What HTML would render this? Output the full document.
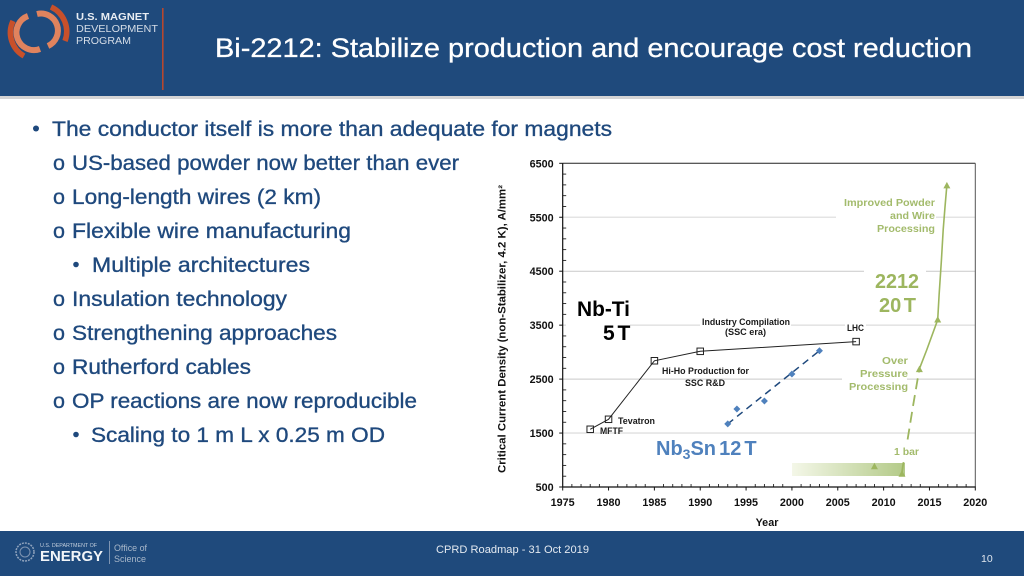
<!DOCTYPE html>
<html lang="en">
<head>
<meta charset="utf-8">
<title>Bi-2212: Stabilize production and encourage cost reduction</title>
<style>
html,body{margin:0;padding:0;background:#fff;width:1024px;height:576px;overflow:hidden}
svg{display:block;font-family:"Liberation Sans",sans-serif}
.body-text{font-size:21.5px;fill:#1f497d;stroke:#1f497d;stroke-width:.35px}
.lab{font-size:9px;font-weight:bold;fill:#1a1a1a}
.grn{font-size:10.5px;font-weight:bold;fill:#a3bb6c}
.grn-big{font-size:20px;font-weight:bold;fill:#9db65f}
.tick{font-size:10.8px;font-weight:bold;fill:#111}
</style>
</head>
<body>
<svg id="slide" xmlns="http://www.w3.org/2000/svg" width="1024" height="576" viewBox="0 0 1024 576">
  <defs>
    <linearGradient id="barGrad" x1="0" x2="1" y1="0" y2="0">
      <stop offset="0" stop-color="#f4f7e8"/>
      <stop offset="1" stop-color="#b3ca88"/>
    </linearGradient>
  </defs>

  <g>
    <rect x="0" y="96" width="1024" height="3" fill="#d4d4d4"/>
    <rect x="0" y="0" width="1024" height="96" fill="#1f4a7c"/>
    <g fill="none">
      <path d="M37 14 A17 17 0 0 1 48 46" stroke="#e0835e" stroke-width="6"/>
      <path d="M28 16 A17 17 0 0 0 40 49" stroke="#e0835e" stroke-width="6"/>
      <path d="M51 7 A27 27 0 0 1 65 41" stroke="#c8502a" stroke-width="5.5"/>
      <path d="M13 21 A27 27 0 0 0 24 56" stroke="#c8502a" stroke-width="5.5"/>
      <text x="76" y="20" font-size="10.5" font-weight="bold" fill="#e8edf3" textLength="73" lengthAdjust="spacingAndGlyphs">U.S. MAGNET</text>
      <text x="76" y="32" font-size="10.5" fill="#d5dde7" textLength="82" lengthAdjust="spacingAndGlyphs">DEVELOPMENT</text>
      <text x="76" y="44" font-size="10.5" fill="#d5dde7" textLength="55" lengthAdjust="spacingAndGlyphs">PROGRAM</text>
    </g>
    <rect x="162" y="8" width="1.6" height="82" fill="#b5482f"/>
    <text x="215" y="57" font-size="26.5" fill="#fff" stroke="#fff" stroke-width=".3" textLength="757" lengthAdjust="spacingAndGlyphs">Bi-2212: Stabilize production and encourage cost reduction</text>
  </g>

  <g>
    <circle cx="36" cy="128.500" r="3" fill="#1f497d"/>
    <text class="body-text" x="52" y="136" textLength="560" lengthAdjust="spacingAndGlyphs">The conductor itself is more than adequate for magnets</text>
    <text class="body-text" x="53" y="170">o</text>
    <text class="body-text" x="72" y="170" textLength="387" lengthAdjust="spacingAndGlyphs">US-based powder now better than ever</text>
    <text class="body-text" x="53" y="204">o</text>
    <text class="body-text" x="72" y="204" textLength="249" lengthAdjust="spacingAndGlyphs">Long-length wires (2 km)</text>
    <text class="body-text" x="53" y="238">o</text>
    <text class="body-text" x="72" y="238" textLength="279" lengthAdjust="spacingAndGlyphs">Flexible wire manufacturing</text>
    <circle cx="76" cy="264.500" r="2.800" fill="#1f497d"/>
    <text class="body-text" x="92" y="272" textLength="218" lengthAdjust="spacingAndGlyphs">Multiple architectures</text>
    <text class="body-text" x="53" y="306">o</text>
    <text class="body-text" x="72" y="306" textLength="215" lengthAdjust="spacingAndGlyphs">Insulation technology</text>
    <text class="body-text" x="53" y="340">o</text>
    <text class="body-text" x="72" y="340" textLength="265" lengthAdjust="spacingAndGlyphs">Strengthening approaches</text>
    <text class="body-text" x="53" y="374">o</text>
    <text class="body-text" x="72" y="374" textLength="179" lengthAdjust="spacingAndGlyphs">Rutherford cables</text>
    <text class="body-text" x="53" y="408">o</text>
    <text class="body-text" x="72" y="408" textLength="345" lengthAdjust="spacingAndGlyphs">OP reactions are now reproducible</text>
    <circle cx="76" cy="434.500" r="2.800" fill="#1f497d"/>
    <text class="body-text" x="91" y="442" textLength="294" lengthAdjust="spacingAndGlyphs">Scaling to 1 m L x 0.25 m OD</text>
  </g>

  <g id="chart">
    <g id="grid"></g>
    <g fill="#fff">
      <rect x="836" y="195" width="100" height="40"/>
      <rect x="864" y="266" width="62" height="52"/>
      <rect x="566" y="296" width="64" height="46"/>
      <rect x="700" y="316" width="91" height="21"/>
      <rect x="845" y="322" width="21" height="12"/>
      <rect x="842" y="354" width="65" height="38"/>
      <rect x="638" y="436" width="135" height="26"/>
    </g>
    <rect id="pressureBar" x="792" y="463" width="113" height="13" fill="url(#barGrad)"/>
    <g id="axes"></g>
    <g id="marks"></g>
    <rect x="892" y="443" width="29" height="17" fill="#fff"/>
    <g id="ticks"></g>

    <text transform="translate(505.500 473) rotate(-90)" font-size="10.800" font-weight="bold" fill="#111" textLength="288" lengthAdjust="spacingAndGlyphs">Critical Current Density (non-Stabilizer, 4.2 K), A/mm²</text>
    <text x="767" y="526" font-size="10.800" font-weight="bold" fill="#111" text-anchor="middle">Year</text>

    <text x="577" y="316" font-size="21" font-weight="bold" fill="#000" textLength="53" lengthAdjust="spacingAndGlyphs">Nb-Ti</text>
    <text x="603" y="340" font-size="21" font-weight="bold" fill="#000" word-spacing="-3">5 T</text>
    <text class="lab" x="702" y="325" textLength="88" lengthAdjust="spacingAndGlyphs">Industry Compilation</text>
    <text class="lab" x="725" y="335" textLength="41" lengthAdjust="spacingAndGlyphs">(SSC era)</text>
    <text class="lab" x="847" y="331" textLength="17" lengthAdjust="spacingAndGlyphs">LHC</text>
    <text class="lab" x="662" y="374" textLength="87" lengthAdjust="spacingAndGlyphs">Hi-Ho Production for</text>
    <text class="lab" x="685" y="386" textLength="40" lengthAdjust="spacingAndGlyphs">SSC R&amp;D</text>
    <text class="lab" x="618" y="424" textLength="37" lengthAdjust="spacingAndGlyphs">Tevatron</text>
    <text class="lab" x="600" y="434" textLength="23" lengthAdjust="spacingAndGlyphs">MFTF</text>
    <text x="656" y="455" font-size="20" font-weight="bold" fill="#4f81bd" word-spacing="-2.5">Nb<tspan font-size="14" dy="4">3</tspan><tspan dy="-4">Sn 12 T</tspan></text>
    <text class="grn" x="844" y="206" textLength="91" lengthAdjust="spacingAndGlyphs">Improved Powder</text>
    <text class="grn" x="890" y="219" textLength="45" lengthAdjust="spacingAndGlyphs">and Wire</text>
    <text class="grn" x="877" y="232" textLength="58" lengthAdjust="spacingAndGlyphs">Processing</text>
    <text class="grn-big" x="875" y="288" textLength="44" lengthAdjust="spacingAndGlyphs">2212</text>
    <text class="grn-big" x="879" y="312" word-spacing="-3">20 T</text>
    <text class="grn" x="882" y="364" textLength="26" lengthAdjust="spacingAndGlyphs">Over</text>
    <text class="grn" x="860" y="377" textLength="48" lengthAdjust="spacingAndGlyphs">Pressure</text>
    <text class="grn" x="849" y="390" textLength="59" lengthAdjust="spacingAndGlyphs">Processing</text>
    <text class="grn" x="894" y="455" textLength="25" lengthAdjust="spacingAndGlyphs">1 bar</text>
  </g>

  <g>
    <rect x="0" y="531" width="1024" height="45" fill="#1f4a7c"/>
    <g>
      <circle cx="25" cy="552" r="9" fill="none" stroke="#8fa3bd" stroke-width="1.500" stroke-dasharray="2 1"/>
      <circle cx="25" cy="552" r="5" fill="none" stroke="#7f95b2" stroke-width="1"/>
      <text x="40" y="547" font-size="5" fill="#c3cfdd" textLength="57" lengthAdjust="spacingAndGlyphs">U.S. DEPARTMENT OF</text>
      <text x="40" y="561" font-size="15" font-weight="bold" fill="#f2f5f8" textLength="63" lengthAdjust="spacingAndGlyphs">ENERGY</text>
      <rect x="109" y="541" width="1" height="23" fill="#7f95b2"/>
      <text x="114" y="551" font-size="9.500" fill="#a9b8ca" textLength="33" lengthAdjust="spacingAndGlyphs">Office of</text>
      <text x="114" y="562" font-size="9.500" fill="#a9b8ca" textLength="32" lengthAdjust="spacingAndGlyphs">Science</text>
    </g>
    <text x="436" y="553" font-size="11" fill="#e4eaf1" textLength="153" lengthAdjust="spacingAndGlyphs">CPRD Roadmap - 31 Oct 2019</text>
    <text x="981" y="562" font-size="10.500" fill="#dfe6ee">10</text>
  </g>
</svg>

<script>
const xTickLabels = [1975, 1980, 1985, 1990, 1995, 2000, 2005, 2010, 2015, 2020];
const yTickLabels = [500, 1500, 2500, 3500, 4500, 5500, 6500];
const nbTiYears = [1978, 1980, 1985, 1990, 2007];
const nbTiValues = [1570, 1755, 2840, 3015, 3195];
const nb3SnYears = [1993, 1994, 1997, 2000, 2003];
const nb3SnValues = [1670, 1945, 2095, 2595, 3025];
const nb3SnTrendYears = [1993, 2003];
const nb3SnTrendValues = [1670, 3025];
const bi2212DashYears = [2012, 2012.1, 2012.6, 2013.2, 2013.9];
const bi2212DashValues = [760, 890, 1370, 2000, 2690];
const bi2212SolidYears = [2013.9, 2014.7, 2015.9, 2016.05, 2016.3, 2016.5, 2016.7, 2016.9];
const bi2212SolidValues = [2690, 3040, 3600, 4060, 4700, 5270, 5690, 6100];
const bi2212MarkerYears = [2009, 2012, 2013.9, 2015.9, 2016.9];
const bi2212MarkerValues = [885, 745, 2685, 3605, 6090];

const NS = 'http://www.w3.org/2000/svg';
const xMin = 1975, xMax = 2020, yMin = 500, yMax = 6500;
const plotLeft = 562.7, plotRight = 975.3, plotTop = 163.3, plotBottom = 487;
function xScale(v) { return plotLeft + (v - xMin) / (xMax - xMin) * (plotRight - plotLeft); }
function yScale(v) { return plotBottom - (v - yMin) / (yMax - yMin) * (plotBottom - plotTop); }
function make(tag, parent, attrs) {
  const el = document.createElementNS(NS, tag);
  for (const k in attrs) el.setAttribute(k, attrs[k]);
  parent.appendChild(el);
  return el;
}
function pathFrom(xs, ys) {
  return xs.map((x, i) => (i ? 'L' : 'M') + xScale(x).toFixed(1) + ' ' + yScale(ys[i]).toFixed(1)).join(' ');
}

const gridGroup = document.getElementById('grid');
const axesGroup = document.getElementById('axes');
const marksGroup = document.getElementById('marks');
const ticksGroup = document.getElementById('ticks');

yTickLabels.slice(1, -1).forEach((v, i) => {
  const line = make('line', gridGroup, {x1: plotLeft, x2: plotRight, y1: yScale(v), y2: yScale(v), stroke: (i % 2 ? '#c9c9c9' : '#e4e4e4'), 'stroke-width': (i % 2 ? 1 : 1.6)});
  
  
});

for (let v = yMin; v <= yMax; v += 200) {
  if ((v - yMin) % 1000 === 0) continue;
  const t = make('line', axesGroup, {x1: plotLeft, x2: plotLeft + 3.5, y1: yScale(v), y2: yScale(v), stroke: '#222', 'stroke-width': 0.9});
  
  
}
for (let v = xMin; v <= xMax; v += 1) {
  if ((v - xMin) % 5 === 0) continue;
  const t = make('line', axesGroup, {x1: xScale(v), x2: xScale(v), y1: plotBottom, y2: plotBottom - 3, stroke: '#222', 'stroke-width': 0.9});
  
  
}
const axisTop = make('line', axesGroup, {x1: plotLeft, x2: plotRight, y1: plotTop, y2: plotTop, stroke: '#222', 'stroke-width': 1});


const axisRight = make('line', axesGroup, {x1: plotRight, x2: plotRight, y1: plotTop, y2: plotBottom, stroke: '#555', 'stroke-width': 1});


const axisLeft = make('line', axesGroup, {x1: plotLeft, x2: plotLeft, y1: plotTop, y2: plotBottom, stroke: '#111', 'stroke-width': 1.2});


const axisBottom = make('line', axesGroup, {x1: plotLeft, x2: plotRight, y1: plotBottom, y2: plotBottom, stroke: '#111', 'stroke-width': 1.2});



yTickLabels.forEach(v => {
  const t = make('line', axesGroup, {x1: plotLeft - 3.5, x2: plotLeft, y1: yScale(v), y2: yScale(v), stroke: '#111', 'stroke-width': 1});
  
  
  const label = make('text', ticksGroup, {class: 'tick', x: plotLeft - 9, y: yScale(v) + 4, 'text-anchor': 'end'});
  
  
  label.textContent = v;
});
xTickLabels.forEach(v => {
  const t = make('line', axesGroup, {x1: xScale(v), x2: xScale(v), y1: plotBottom - 0.5, y2: plotBottom + 3.5, stroke: '#111', 'stroke-width': 1});
  
  
  const label = make('text', ticksGroup, {class: 'tick', x: xScale(v), y: plotBottom + 19, 'text-anchor': 'middle'});
  
  
  label.textContent = v;
});

const nbTiLine = make('path', marksGroup, {d: pathFrom(nbTiYears, nbTiValues), fill: 'none', stroke: '#222', 'stroke-width': 1});


nbTiYears.forEach((yr, i) => {
  const p = make('rect', marksGroup, {x: xScale(yr) - 3.25, y: yScale(nbTiValues[i]) - 3.25, width: 6.5, height: 6.5, fill: 'none', stroke: '#222', 'stroke-width': 1});
  
  
});

const nb3SnLine = make('path', marksGroup, {d: pathFrom(nb3SnTrendYears, nb3SnTrendValues), fill: 'none', stroke: '#1f497d', 'stroke-width': 1.5, 'stroke-dasharray': '7 5'});


nb3SnYears.forEach((yr, i) => {
  const cx = xScale(yr), cy = yScale(nb3SnValues[i]);
  const p = make('polygon', marksGroup, {points: [cx, cy - 3.5, cx + 3.5, cy, cx, cy + 3.5, cx - 3.5, cy].join(' '), fill: '#4f81bd'});
  
  
});

const dashLine = make('path', marksGroup, {d: pathFrom(bi2212DashYears, bi2212DashValues), fill: 'none', stroke: '#9db65f', 'stroke-width': 1.8, 'stroke-dasharray': '11 6'});


const solidLine = make('path', marksGroup, {d: pathFrom(bi2212SolidYears, bi2212SolidValues), fill: 'none', stroke: '#9db65f', 'stroke-width': 1.6});


bi2212MarkerYears.forEach((yr, i) => {
  const cx = xScale(yr), cy = yScale(bi2212MarkerValues[i]);
  const p = make('polygon', marksGroup, {points: [cx, cy - 3.5, cx + 3.5, cy + 3, cx - 3.5, cy + 3].join(' '), fill: '#9db65f'});
  
  
});
</script>
</body>
</html>
